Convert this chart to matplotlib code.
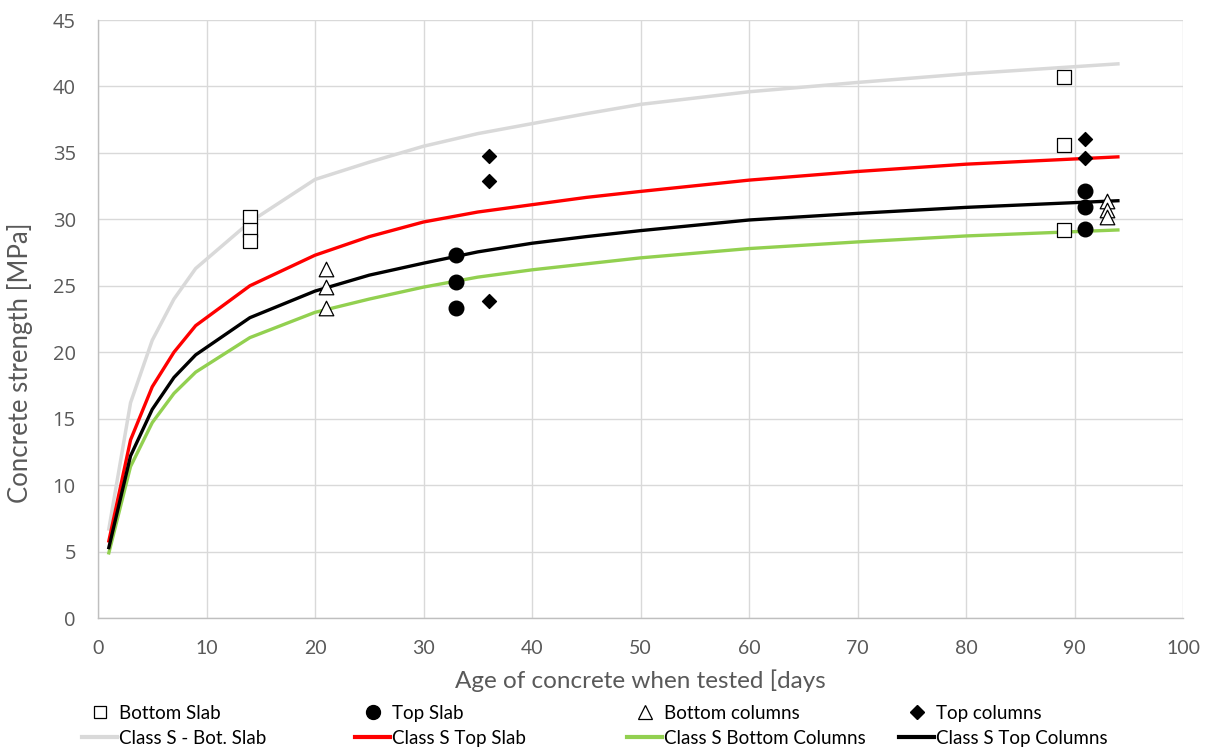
import matplotlib
matplotlib.use("Agg")
import matplotlib.pyplot as plt
from matplotlib.lines import Line2D

# ---- data ----
curve_age = [1, 3, 5, 7, 9, 14, 20, 25, 30, 35, 40, 45, 50, 60, 70, 80, 94]
class_s_bot_slab = [6.7, 16.2, 20.9, 24.0, 26.3, 29.8, 33.0, 34.3, 35.5, 36.45, 37.2, 37.95, 38.65, 39.6, 40.3, 40.95, 41.7]
class_s_top_slab = [5.8, 13.4, 17.4, 20.0, 22.0, 25.0, 27.3, 28.7, 29.8, 30.55, 31.1, 31.65, 32.1, 32.95, 33.6, 34.15, 34.7]
class_s_bot_cols = [4.9, 11.4, 14.7, 16.9, 18.5, 21.1, 23.0, 24.0, 24.9, 25.65, 26.2, 26.65, 27.1, 27.8, 28.3, 28.75, 29.2]
class_s_top_cols = [5.3, 12.2, 15.7, 18.1, 19.8, 22.6, 24.6, 25.8, 26.7, 27.55, 28.2, 28.7, 29.15, 29.95, 30.45, 30.9, 31.4]

bottom_slab_age = [14, 14, 14, 89, 89, 89]
bottom_slab_val = [30.2, 29.2, 28.35, 40.7, 35.6, 29.2]
top_slab_age = [33, 33, 33, 91, 91, 91]
top_slab_val = [27.3, 25.25, 23.35, 32.1, 30.9, 29.3]
bottom_cols_age = [21, 21, 21, 93, 93, 93]
bottom_cols_val = [26.3, 24.9, 23.3, 31.35, 30.7, 30.15]
top_cols_age = [36, 36, 36, 91, 91]
top_cols_val = [34.75, 32.9, 23.85, 36.05, 34.6]

x_ticks = list(range(0, 101, 10))
y_ticks = list(range(0, 46, 5))

LAB = ["Lato", "DejaVu Sans"]
TICKC = "#595959"

fig = plt.figure(figsize=(12.09, 7.48), dpi=100)
ax = fig.add_axes([98/1209, 1-618/748, (1183-98)/1209, (618-20)/748])

ax.plot(curve_age, class_s_bot_slab, color="#d9d9d9", lw=2.5, zorder=2)
ax.plot(curve_age, class_s_top_slab, color="#ff0000", lw=2.4, zorder=2)
ax.plot(curve_age, class_s_bot_cols, color="#92d050", lw=2.4, zorder=2)
ax.plot(curve_age, class_s_top_cols, color="#000000", lw=2.4, zorder=2)

ax.scatter(bottom_slab_age, bottom_slab_val, marker="s", s=90, facecolor="white", edgecolor="black", linewidths=0.9, zorder=3)
ax.scatter(top_slab_age, top_slab_val, marker="o", s=110, facecolor="black", edgecolor="black", zorder=3)
ax.scatter(bottom_cols_age, bottom_cols_val, marker="^", s=110, facecolor="white", edgecolor="black", linewidths=0.9, zorder=3)
ax.scatter(top_cols_age, top_cols_val, marker="D", s=50, facecolor="black", edgecolor="black", zorder=3)

ax.set_xlim(0, 100)
ax.set_ylim(0, 45)
ax.set_xticks(x_ticks)
ax.set_yticks(y_ticks)
ax.grid(True, color="#d9d9d9", lw=1.0, zorder=0)
ax.set_axisbelow(True)
for s in ["top", "right"]:
    ax.spines[s].set_visible(False)
for s in ["left", "bottom"]:
    ax.spines[s].set_color("#bfbfbf")
    ax.spines[s].set_linewidth(1.0)
ax.tick_params(axis="both", length=0)
ax.tick_params(axis="y", pad=16, labelcolor=TICKC, labelsize=14.5)
ax.tick_params(axis="x", pad=16, labelcolor=TICKC, labelsize=14)
for lab in ax.get_yticklabels():
    lab.set_family(["Open Sans", "DejaVu Sans"])
for lab in ax.get_xticklabels():
    lab.set_family(LAB)

ax.set_xlabel("Age of concrete when tested [days", fontsize=17.5, color=TICKC, family=LAB, labelpad=9)
ax.set_ylabel("Concrete strength [MPa]", fontsize=18.5, color=TICKC, family=LAB)
ax.yaxis.set_label_coords((33 - 98) / 1085, (618 - 363) / 598)

# legend: four columns placed individually
handles = [
    (Line2D([], [], ls="none", marker="s", ms=9, mfc="white", mec="black", mew=0.9), "Bottom Slab",
     Line2D([], [], color="#d9d9d9", lw=3), "Class S - Bot. Slab", 82),
    (Line2D([], [], ls="none", marker="o", ms=10, mfc="black", mec="black"), "Top Slab",
     Line2D([], [], color="#ff0000", lw=3), "Class S Top Slab", 355),
    (Line2D([], [], ls="none", marker="^", ms=10, mfc="white", mec="black", mew=0.9), "Bottom columns",
     Line2D([], [], color="#92d050", lw=3), "Class S Bottom Columns", 627),
    (Line2D([], [], ls="none", marker="D", ms=7, mfc="black", mec="black"), "Top columns",
     Line2D([], [], color="#000000", lw=3), "Class S Top Columns", 899),
]
for h1, l1, h2, l2, xpx in handles:
    leg = fig.legend([h1, h2], [l1, l2], loc="upper left",
                     bbox_to_anchor=(xpx/1209, 1-705/748), frameon=False,
                     borderpad=0, borderaxespad=0, handlelength=1.87, handletextpad=0.1,
                     labelspacing=0.42, prop={"family": LAB, "size": 13.5})
    for t in leg.get_texts():
        t.set_color("#000000")

fig.savefig("out.png", dpi=100)
